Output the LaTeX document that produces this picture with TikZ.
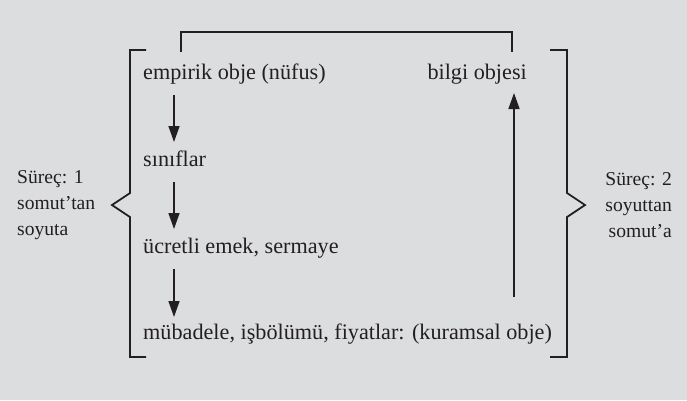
\documentclass[tikz,border=0pt]{standalone}
\usepackage{fontspec}
\setmainfont{Liberation Serif}
\usetikzlibrary{arrows.meta,calc}
\definecolor{bg}{RGB}{220,221,223}
\definecolor{ink}{RGB}{35,31,32}
\begin{document}
\begin{tikzpicture}[x=1pt,y=-1pt,
  main/.style={anchor=base west, inner sep=0pt, font=\fontsize{22.2}{26}\selectfont, text=ink},
  side/.style={inner sep=0pt, font=\fontsize{19.6}{26}\selectfont, text=ink},
  brk/.style={draw=ink, line width=1.8pt, line join=miter},
  arr/.style={draw=ink, line width=1.5pt, -{Triangle[length=16pt,width=11pt]}}]
\fill[bg] (0,0) rectangle (687,400);
\useasboundingbox (0,0) rectangle (687,400);
% main texts
\node[main] (emp) at (143,79) {empirik obje (nüfus)};
\node[main] (sin) at (143,166) {sınıflar};
\node[main] (ucr) at (143,253) {ücretli emek, sermaye};
\node[main] (mub) at (143,339) {mübadele, işbölümü, fiyatlar: (kuramsal obje)};
\node[main, anchor=base east] (bil) at (527,79) {bilgi objesi};
% side labels
\node[side, anchor=west, align=left] (left) at (17,205) {Süreç: 1\\somut’tan\\soyuta};
\node[side, anchor=east, align=right] (right) at (672,205) {Süreç: 2\\soyuttan\\somut’a};
% brackets
\draw[brk] (146,50) -- (130,50) -- (130,193) -- (112,205) -- (130,217) -- (130,357) -- (146,357);
\draw[brk] (550,50) -- (567,50) -- (567,193) -- (585,205) -- (567,217) -- (567,357) -- (550,357);
% top connector
\coordinate (ta) at (181,52);
\coordinate (tb) at (512,52);
\draw[brk] (ta) -- ++(0,-20) -| (tb);
% down arrows
\draw[arr] ($(emp.base west)+(31,16)$) -- ($(sin.base west)+(31,-24)$);
\draw[arr] ($(sin.base west)+(31,16)$) -- ($(ucr.base west)+(31,-24)$);
\draw[arr] ($(ucr.base west)+(31,16)$) -- ($(mub.base west)+(31,-22)$);
% up arrow
\draw[arr] ($(mub.base west)+(371,-42)$) -- ($(bil.base east)+(-13,14)$);
\end{tikzpicture}
\end{document}
